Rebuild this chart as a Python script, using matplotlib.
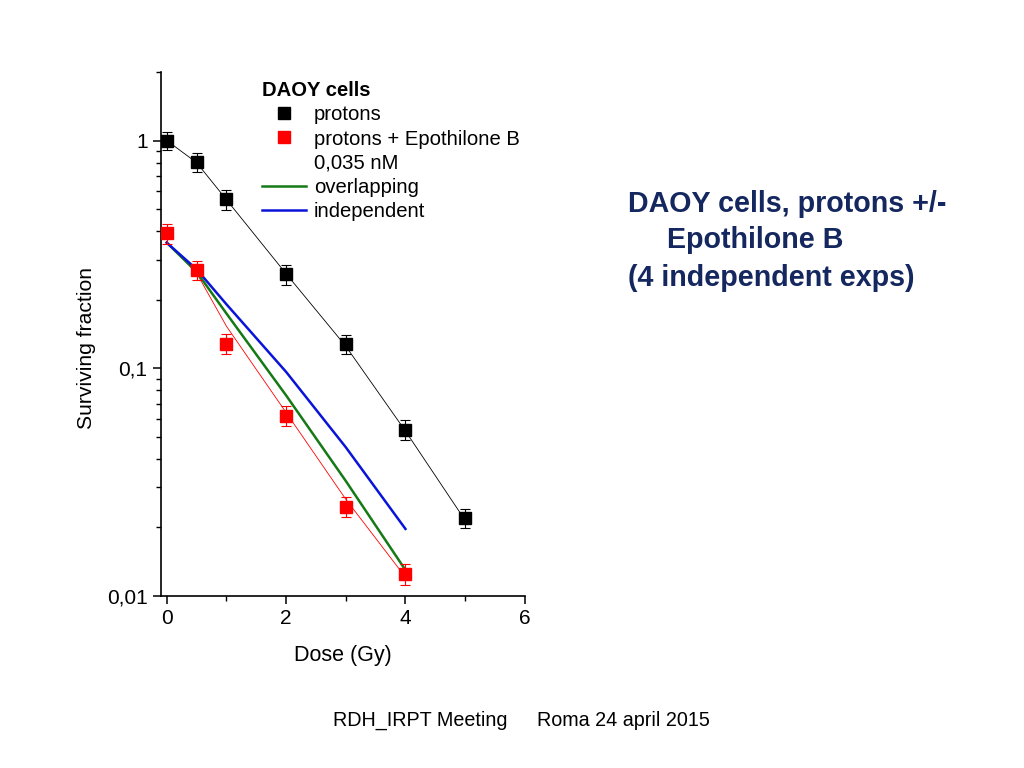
import matplotlib
matplotlib.use("Agg")
import matplotlib.pyplot as plt
from matplotlib.lines import Line2D
from matplotlib.ticker import FixedLocator, FixedFormatter, LogLocator, NullFormatter

plt.rcParams['font.family'] = ['Liberation Sans', 'DejaVu Sans']

# measured survival, protons alone
dose_p = [0, 0.5, 1, 2, 3, 4, 5]
sf_p = [1.0, 0.805, 0.551, 0.259, 0.128, 0.0537, 0.022]
err_p = [0.09, 0.075, 0.055, 0.026, 0.012, 0.0054, 0.0022]

# measured survival, protons + Epothilone B 0,035 nM
dose_e = [0, 0.5, 1, 2, 3, 4]
sf_e = [0.391, 0.27, 0.128, 0.062, 0.0247, 0.0125]
err_e = [0.039, 0.027, 0.013, 0.0065, 0.0025, 0.0013]

# fitted curves
fit_p_x = [0, 0.5, 1, 2, 3, 4, 5]
fit_p_y = [1.0, 0.80, 0.55, 0.26, 0.125, 0.053, 0.0215]
fit_x = [0, 0.5, 1, 2, 3, 4]
fit_e_y = [0.356, 0.262, 0.153, 0.0639, 0.0266, 0.0121]
overlap_y = [0.356, 0.265, 0.174, 0.076, 0.032, 0.0130]
indep_y = [0.356, 0.272, 0.191, 0.0964, 0.045, 0.0197]

ytick_vals = [0.01, 0.1, 1]
ytick_labels = ['0,01', '0,1', '1']
xtick_vals = [0, 2, 4, 6]


def main():
    fig = plt.figure(figsize=(10.24, 7.68), dpi=100)
    ax = fig.add_axes([0.157, 0.224, 0.3555, 0.6823])

    ax.plot(fit_p_x, fit_p_y, color='black', lw=0.6)
    ax.plot(fit_x, fit_e_y, color='red', lw=0.6)
    ax.plot(fit_x, overlap_y, color='#157a15', lw=1.8)
    ax.plot(fit_x, indep_y, color='#0a14d8', lw=1.8)

    ax.errorbar(dose_p, sf_p, yerr=err_p, fmt='s', color='black', ms=8.5,
                elinewidth=0.8, capsize=3.5, capthick=0.8, zorder=5)
    ax.errorbar(dose_e, sf_e, yerr=err_e, fmt='s', color='red', ms=8.5,
                elinewidth=0.8, capsize=3.5, capthick=0.8, zorder=5)

    ax.set_yscale('log')
    ax.set_ylim(0.01, 2.0)
    ax.set_xlim(-0.1, 6)

    ax.yaxis.set_major_locator(FixedLocator(ytick_vals))
    ax.yaxis.set_major_formatter(FixedFormatter(ytick_labels))
    ax.yaxis.set_minor_locator(LogLocator(base=10, subs=range(2, 10)))
    ax.yaxis.set_minor_formatter(NullFormatter())
    ax.set_xticks(xtick_vals)
    ax.set_xticks([1, 3, 5], minor=True)

    for side in ['top', 'right']:
        ax.spines[side].set_visible(False)
    ax.spines['left'].set_linewidth(1.2)
    ax.spines['bottom'].set_linewidth(1.2)
    ax.tick_params(which='major', direction='out', length=6, width=1.1,
                   labelsize=15)
    ax.tick_params(which='minor', direction='out', length=3.5, width=1.0)

    ax.set_xlabel('Dose (Gy)', fontsize=15.5)
    ax.xaxis.set_label_coords(0.5, -0.093)
    ax.set_ylabel('Surviving fraction', fontsize=15.2)
    ax.yaxis.set_label_coords(-0.178, 0.473)

    handles = [
        Line2D([], [], marker='s', ls='none', color='black', ms=8.5),
        Line2D([], [], marker='s', ls='none', color='red', ms=8.5),
        Line2D([], [], ls='none'),
        Line2D([], [], color='#157a15', lw=1.8),
        Line2D([], [], color='#0a14d8', lw=1.8),
    ]
    labels = ['protons', 'protons + Epothilone B', '0,035 nM',
              'overlapping', 'independent']
    ax.legend(handles, labels, loc='upper left',
              bbox_to_anchor=(262 / 1024, 1 - 81 / 768),
              bbox_transform=fig.transFigure, frameon=False,
              fontsize=14.6, title='DAOY cells',
              title_fontproperties={'weight': 'bold', 'size': 14.6},
              alignment='left', handlelength=2.15, handletextpad=0.4,
              labelspacing=0.26, borderpad=0, borderaxespad=0)

    navy = '#14275e'
    fig.text(628 / 1024, 1 - 211.6 / 768, 'DAOY cells, protons +/-',
             fontsize=20.6, fontweight='bold', color=navy, va='baseline')
    fig.text(667 / 1024, 1 - 247.6 / 768, 'Epothilone B',
             fontsize=20.6, fontweight='bold', color=navy, va='baseline')
    fig.text(628 / 1024, 1 - 286 / 768, '(4 independent exps)',
             fontsize=20.6, fontweight='bold', color=navy, va='baseline')

    fig.text(333 / 1024, 1 - 726 / 768, 'RDH_IRPT Meeting', fontsize=14.2,
             va='baseline')
    fig.text(537 / 1024, 1 - 726 / 768, 'Roma 24 april 2015', fontsize=14.2,
             va='baseline')

    fig.savefig('out.png', dpi=100)


if __name__ == "__main__":
    main()
